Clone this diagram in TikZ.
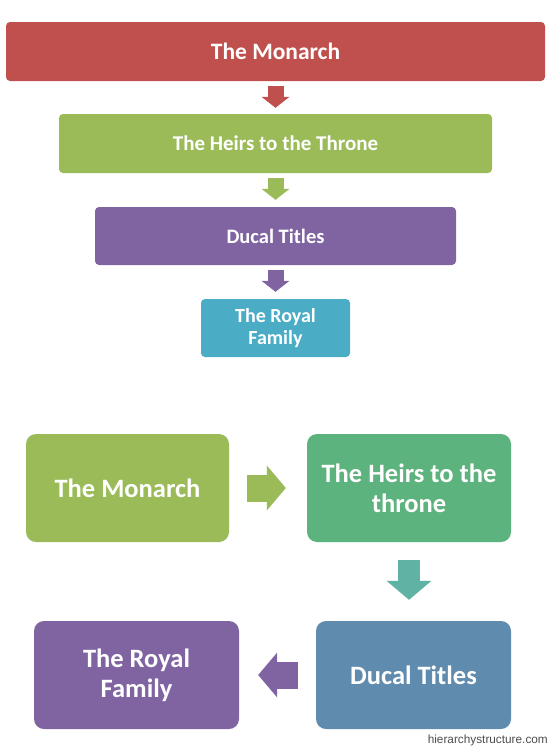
\documentclass[tikz,border=0pt]{standalone}
\usepackage{fontspec}
\setmainfont{Carlito}
\newfontfamily\sitefont{Liberation Sans}
\usetikzlibrary{arrows.meta}

\definecolor{monarchred}{HTML}{C0504D}
\definecolor{heirsgreen}{HTML}{9BBB59}
\definecolor{ducalpurple}{HTML}{8064A2}
\definecolor{royalteal}{HTML}{4BACC6}
\definecolor{heirsleaf}{HTML}{5DB37D}
\definecolor{downteal}{HTML}{5FB3A4}
\definecolor{ducalsteel}{HTML}{5F8BAE}

\begin{document}
\begin{tikzpicture}[x=1pt,y=-1pt]
\tikzstyle{level}=[rectangle,rounded corners=4pt,text=white,align=center,inner sep=0pt,minimum height=58pt]
\tikzstyle{tile}=[rectangle,rounded corners=10pt,text=white,align=center,inner sep=0pt,minimum width=204pt,minimum height=108pt,font=\bfseries\fontsize{26.5}{30}\selectfont]
\tikzstyle{thinarrow}=[line width=16pt,-{Triangle[length=11pt,width=28pt,line width=0pt]}]
\tikzstyle{widearrow}=[line width=27pt,-{Triangle[length=19pt,width=45pt,line width=0pt]}]

\useasboundingbox (0,0) rectangle (550,750);

%top chart.
\node[level,fill=monarchred,minimum width=539pt,minimum height=59pt,font=\bfseries\fontsize{23.5}{26}\selectfont] (monarch) at (275.5,51.5) {The Monarch};
\node[level,fill=heirsgreen,minimum width=433pt,minimum height=59pt,font=\bfseries\fontsize{21}{24}\selectfont] (heirs) at (275.5,143.5) {The Heirs to the Throne};
\node[level,fill=ducalpurple,minimum width=361pt,font=\bfseries\fontsize{20.5}{23}\selectfont] (ducal) at (275.5,236) {Ducal Titles};
\node[level,fill=royalteal,minimum width=149pt,font=\bfseries\fontsize{20}{22}\selectfont] (royal) at (275.5,328) {The Royal\\Family};

\draw[thinarrow,monarchred,shorten <=5pt,shorten >=6pt] (monarch) -- (heirs);
\draw[thinarrow,heirsgreen,shorten <=5pt,shorten >=7pt] (heirs) -- (ducal);
\draw[thinarrow,ducalpurple,shorten <=5pt,shorten >=7pt] (ducal) -- (royal);

%bottom chart.
\node[tile,fill=heirsgreen,minimum width=203pt] (monarch_tile) at (127.5,488) {The Monarch};
\node[tile,fill=heirsleaf] (heirs_tile) at (409,488) {The Heirs to the\\throne};
\node[tile,fill=ducalsteel,minimum width=195pt] (ducal_tile) at (413.5,675) {Ducal Titles};
\node[tile,fill=ducalpurple,minimum width=205pt] (royal_tile) at (136.5,675) {The Royal\\Family};

\draw[widearrow,heirsgreen,shorten <=18pt,shorten >=21pt] (monarch_tile) -- (heirs_tile);
\draw[widearrow,downteal,line width=22pt,shorten <=18pt,shorten >=21pt] (heirs_tile.south) -- (heirs_tile.south |- ducal_tile.north);
\draw[widearrow,ducalpurple,shorten <=18pt,shorten >=19pt] (ducal_tile) -- (royal_tile);

\node[anchor=east,text=black!70,font=\sitefont\fontsize{11.8}{13}\selectfont,inner sep=0pt] (site) at (548,740) {hierarchystructure.com};

\end{tikzpicture}
\end{document}
